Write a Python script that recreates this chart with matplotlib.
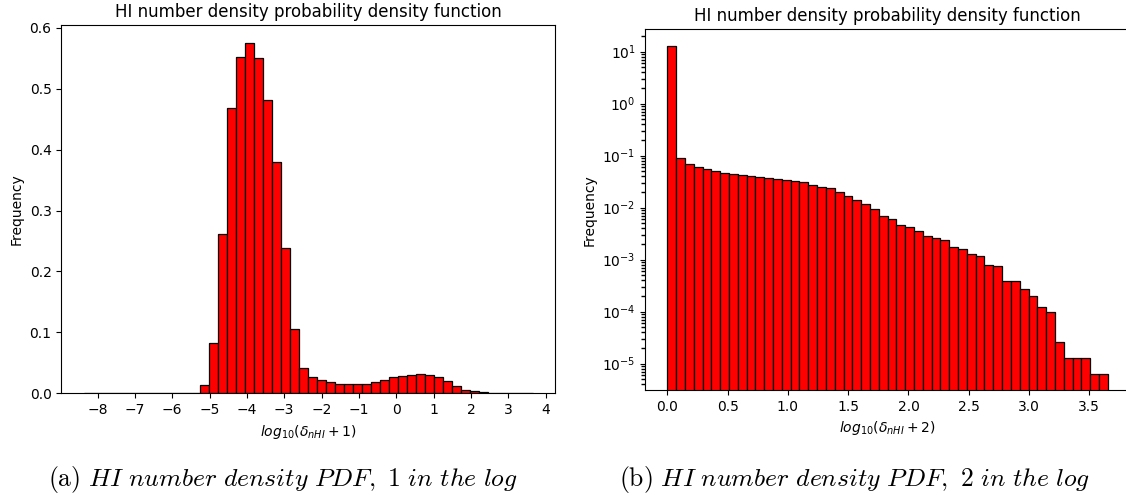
import numpy as np
import matplotlib
matplotlib.use("Agg")
import matplotlib.pyplot as plt
from matplotlib.ticker import LogLocator, NullFormatter

plt.rcParams['mathtext.fontset'] = 'dejavusans'

# Left histogram: log10(delta_nHI + 1), 50 bins
left_range = (-8.37, 3.66)
left_freq = [0, 0, 0, 0, 0, 0, 0, 0, 0, 0, 0, 0,
             0.001, 0.013, 0.083, 0.262, 0.469, 0.553, 0.576, 0.551,
             0.481, 0.379, 0.238, 0.106, 0.042, 0.027, 0.021, 0.018,
             0.016, 0.015, 0.015, 0.016, 0.019, 0.022, 0.026, 0.029,
             0.030, 0.031, 0.030, 0.027, 0.020, 0.012, 0.006, 0.003,
             0.0015, 0.0008, 0.0004, 0.0002, 0.0001, 0.0001]
left_xticks = list(range(-8, 5))

# Right histogram: log10(delta_nHI + 2), 50 bins, log y
right_range = (0.0, 3.653)
right_freq = [13.0, 0.089, 0.068, 0.0605, 0.0546, 0.0507, 0.0457, 0.0444,
              0.0425, 0.0412, 0.0389, 0.0372, 0.0356, 0.0336, 0.0321, 0.0307,
              0.0277, 0.0253, 0.0235, 0.0200, 0.0165, 0.0140, 0.0116, 0.0092,
              0.0070, 0.0061, 0.00465, 0.0042, 0.0035, 0.0029, 0.00265,
              0.00239, 0.00173, 0.00158, 0.0013, 0.00116, 0.00079, 0.00076,
              0.00038, 0.00038, 0.000277, 0.0002, 0.000123, 0.0000986,
              2.6e-5, 1.29e-5, 1.29e-5, 1.29e-5, 6.4e-6, 6.4e-6]

title = "HI number density probability density function"

fig = plt.figure(figsize=(11.26, 4.95), dpi=100)
ax1 = fig.add_axes([0.0544, 0.2055, 0.4388, 0.744])
ax2 = fig.add_axes([0.5731, 0.2121, 0.4303, 0.7287])

# left panel
edges = np.linspace(left_range[0], left_range[1], len(left_freq) + 1)
ax1.bar(edges[:-1], left_freq, width=np.diff(edges), align='edge',
        color='red', edgecolor='black', linewidth=0.9)
ax1.set_xticks(left_xticks)
ax1.set_title(title)
ax1.set_xlabel(r'$log_{10}(\delta_{nHI}+1)$')
ax1.set_ylabel('Frequency')

# right panel
edges2 = np.linspace(right_range[0], right_range[1], len(right_freq) + 1)
ax2.bar(edges2[:-1], right_freq, width=np.diff(edges2), align='edge',
        color='red', edgecolor='black', linewidth=0.9, log=True)
ax2.yaxis.set_minor_locator(LogLocator(base=10, subs=np.arange(2, 10),
                                       numticks=100))
ax2.yaxis.set_minor_formatter(NullFormatter())
ax2.tick_params(axis='y', which='minor', length=3, width=1.0)
ax2.set_title(title)
ax2.set_xlabel(r'$log_{10}(\delta_{nHI}+2)$')
ax2.set_ylabel('Frequency')

# sub-figure captions
cap = {'fontsize': 18.5, 'ha': 'center', 'va': 'baseline',
       'math_fontfamily': 'cm'}
fig.text(0.2513, 0.018,
         r'$\mathrm{(a)}\ \mathit{HI\ number\ density\ PDF,\ 1\ in\ the\ log}$',
         **cap)
fig.text(0.7593, 0.018,
         r'$\mathrm{(b)}\ \mathit{HI\ number\ density\ PDF,\ 2\ in\ the\ log}$',
         **cap)

fig.savefig("out.png", dpi=100)
